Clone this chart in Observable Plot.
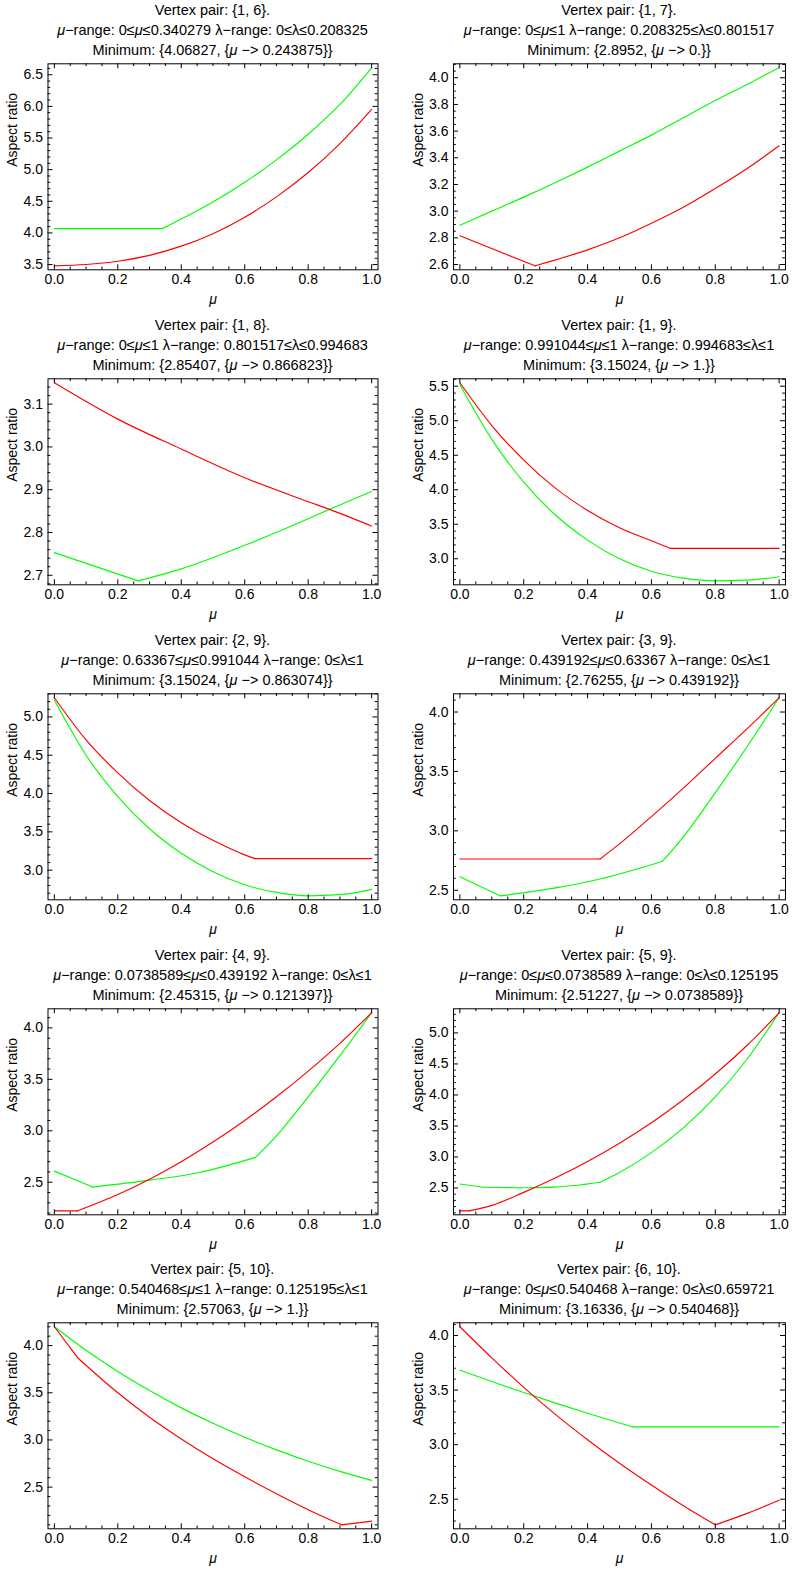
<!DOCTYPE html>
<html>
<head>
<meta charset="utf-8">
<script src="https://cdn.jsdelivr.net/npm/d3@7"></script>
<script src="https://cdn.jsdelivr.net/npm/@observablehq/plot@0.6"></script>
<style>
  body { margin: 0; background: #fff; }
  #grid { position: relative; width: 808px; height: 1572px; overflow: hidden;
          font-family: "Liberation Sans", Arial, sans-serif; color: #000; }
  .panel { position: absolute; width: 404px; height: 315px; }
  .title { position: absolute; top: -0.5px; text-align: center; font-size: 14.5px;
           line-height: 20px; white-space: nowrap; }
  .panel svg { position: absolute; left: 0; top: 60px; }
</style>
</head>
<body>
<div id="grid"></div>
<script>
// ---------- data ----------
const xTicks = [0, 0.2, 0.4, 0.6, 0.8, 1.0];

const titles = [
  ["Vertex pair: {1, 6}.", "<i>μ</i>−range: 0≤<i>μ</i>≤0.340279 λ−range: 0≤λ≤0.208325", "Minimum: {4.06827, {<i>μ</i> −> 0.243875}}"],
  ["Vertex pair: {1, 7}.", "<i>μ</i>−range: 0≤<i>μ</i>≤1 λ−range: 0.208325≤λ≤0.801517", "Minimum: {2.8952, {<i>μ</i> −> 0.}}"],
  ["Vertex pair: {1, 8}.", "<i>μ</i>−range: 0≤<i>μ</i>≤1 λ−range: 0.801517≤λ≤0.994683", "Minimum: {2.85407, {<i>μ</i> −> 0.866823}}"],
  ["Vertex pair: {1, 9}.", "<i>μ</i>−range: 0.991044≤<i>μ</i>≤1 λ−range: 0.994683≤λ≤1", "Minimum: {3.15024, {<i>μ</i> −> 1.}}"],
  ["Vertex pair: {2, 9}.", "<i>μ</i>−range: 0.63367≤<i>μ</i>≤0.991044 λ−range: 0≤λ≤1", "Minimum: {3.15024, {<i>μ</i> −> 0.863074}}"],
  ["Vertex pair: {3, 9}.", "<i>μ</i>−range: 0.439192≤<i>μ</i>≤0.63367 λ−range: 0≤λ≤1", "Minimum: {2.76255, {<i>μ</i> −> 0.439192}}"],
  ["Vertex pair: {4, 9}.", "<i>μ</i>−range: 0.0738589≤<i>μ</i>≤0.439192 λ−range: 0≤λ≤1", "Minimum: {2.45315, {<i>μ</i> −> 0.121397}}"],
  ["Vertex pair: {5, 9}.", "<i>μ</i>−range: 0≤<i>μ</i>≤0.0738589 λ−range: 0≤λ≤0.125195", "Minimum: {2.51227, {<i>μ</i> −> 0.0738589}}"],
  ["Vertex pair: {5, 10}.", "<i>μ</i>−range: 0.540468≤<i>μ</i>≤1 λ−range: 0.125195≤λ≤1", "Minimum: {2.57063, {<i>μ</i> −> 1.}}"],
  ["Vertex pair: {6, 10}.", "<i>μ</i>−range: 0≤<i>μ</i>≤0.540468 λ−range: 0≤λ≤0.659721", "Minimum: {3.16336, {<i>μ</i> −> 0.540468}}"]
];

// y tick labels per panel and minor tick step
const yTicks1 = [3.5, 4.0, 4.5, 5.0, 5.5, 6.0, 6.5];
const yTicks2 = [2.6, 2.8, 3.0, 3.2, 3.4, 3.6, 3.8, 4.0];
const yTicks3 = [2.7, 2.8, 2.9, 3.0, 3.1];
const yTicks4 = [3.0, 3.5, 4.0, 4.5, 5.0, 5.5];
const yTicks5 = [3.0, 3.5, 4.0, 4.5, 5.0];
const yTicks6 = [2.5, 3.0, 3.5, 4.0];
const yTicks7 = [2.5, 3.0, 3.5, 4.0];
const yTicks8 = [2.5, 3.0, 3.5, 4.0, 4.5, 5.0];
const yTicks9 = [2.5, 3.0, 3.5, 4.0];
const yTicks10 = [2.5, 3.0, 3.5, 4.0];
const yMinorSteps = [0.1, 0.05, 0.02, 0.1, 0.1, 0.1, 0.1, 0.1, 0.1, 0.1];

// series: each is a list of smooth pieces, each piece a list of [mu, aspect ratio]
const red1 = [[[0,3.48],[0.1,3.501],[0.2,3.553],[0.3,3.646],[0.4,3.791],[0.5,3.988],[0.6,4.248],[0.7,4.57],[0.8,4.954],[0.9,5.411],[1.0,5.951]]];
const green1 = [[[0,4.068],[0.34,4.068]],
                [[0.34,4.068],[0.4,4.22],[0.5,4.49],[0.6,4.8],[0.7,5.155],[0.8,5.56],[0.9,6.03],[1.0,6.61]]];

const red2 = [[[0,2.815],[0.235,2.59]],
              [[0.235,2.59],[0.3,2.635],[0.4,2.71],[0.5,2.8],[0.6,2.91],[0.7,3.03],[0.8,3.17],[0.9,3.32],[1.0,3.49]]];
const green2 = [[[0,2.895],[0.1,3.0],[0.2,3.105],[0.3,3.215],[0.4,3.33],[0.5,3.45],[0.6,3.57],[0.7,3.7],[0.8,3.83],[0.9,3.95],[1.0,4.075]]];

const red3 = [[[0,3.15],[0.2,3.065],[0.4,2.995],[0.6,2.928],[0.8,2.872],[0.867,2.854],[1.0,2.815]]];
const green3 = [[[0,2.753],[0.264,2.687]],
                [[0.264,2.687],[0.4,2.715],[0.6,2.77],[0.8,2.832],[0.867,2.854],[1.0,2.896]]];

const red4 = [[[0,5.55],[0.1,4.93],[0.2,4.43],[0.3,4.02],[0.4,3.7],[0.5,3.45],[0.6,3.26],[0.66,3.15]],
              [[0.66,3.15],[1.0,3.15]]];
const green4 = [[[0,5.52],[0.1,4.73],[0.2,4.11],[0.3,3.63],[0.4,3.27],[0.5,3.0],[0.6,2.82],[0.7,2.72],[0.8,2.68],[0.9,2.69],[1.0,2.74]]];

const red5 = [[[0,5.25],[0.1,4.7],[0.2,4.27],[0.3,3.91],[0.4,3.62],[0.5,3.39],[0.6,3.2],[0.634,3.15]],
              [[0.634,3.15],[1.0,3.15]]];
const green5 = [[[0,5.22],[0.1,4.5],[0.2,3.96],[0.3,3.54],[0.4,3.22],[0.5,2.98],[0.6,2.81],[0.7,2.71],[0.8,2.665],[0.9,2.68],[1.0,2.75]]];

const red6 = [[[0,2.763],[0.439,2.763]],
              [[0.439,2.763],[0.5,2.89],[0.6,3.12],[0.7,3.36],[0.8,3.61],[0.9,3.86],[1.0,4.12]]];
const green6 = [[[0,2.613],[0.126,2.453]],
                [[0.126,2.453],[0.3,2.52],[0.439,2.595],[0.634,2.742]],
                [[0.634,2.742],[0.7,2.95],[0.8,3.32],[0.9,3.71],[1.0,4.12]]];

const red7 = [[[0,2.222],[0.0739,2.222]],
              [[0.0739,2.222],[0.2,2.38],[0.3,2.53],[0.4,2.7],[0.5,2.89],[0.6,3.1],[0.7,3.33],[0.8,3.58],[0.9,3.85],[1.0,4.147]]];
const green7 = [[[0,2.608],[0.121,2.453]],
                [[0.121,2.453],[0.3,2.52],[0.45,2.59],[0.634,2.742]],
                [[0.634,2.742],[0.7,2.95],[0.8,3.33],[0.9,3.73],[1.0,4.147]]];

const red8 = [[[0,2.132],[0.03,2.132]],
              [[0.03,2.132],[0.1,2.22],[0.2,2.43],[0.3,2.665],[0.4,2.928],[0.5,3.223],[0.6,3.553],[0.7,3.923],[0.8,4.337],[0.9,4.801],[1.0,5.325]]];
const green8 = [[[0,2.565],[0.074,2.512]],
                [[0.074,2.512],[0.2,2.505],[0.3,2.515],[0.439,2.592]],
                [[0.439,2.592],[0.5,2.75],[0.6,3.07],[0.7,3.47],[0.8,3.97],[0.9,4.58],[1.0,5.325]]];

const red9 = [[[0,4.2],[0.0739,3.87]],
              [[0.0739,3.87],[0.2,3.5],[0.3,3.24],[0.4,3.01],[0.5,2.8],[0.6,2.61],[0.7,2.43],[0.8,2.26],[0.905,2.1]],
              [[0.905,2.1],[1.0,2.14]]];
const green9 = [[[0,4.2],[0.1,3.95],[0.2,3.725],[0.3,3.523],[0.4,3.34],[0.5,3.176],[0.6,3.028],[0.7,2.895],[0.8,2.775],[0.9,2.667],[1.0,2.571]]];

const red10 = [[[0,4.08],[0.1,3.795],[0.2,3.525],[0.3,3.275],[0.4,3.045],[0.5,2.83],[0.6,2.63],[0.7,2.44],[0.8,2.265]],
               [[0.8,2.265],[0.9,2.37],[1.0,2.49]]];
const green10 = [[[0,3.683],[0.1,3.578],[0.2,3.477],[0.3,3.38],[0.4,3.287],[0.5,3.198],[0.5405,3.163]],
                 [[0.5405,3.163],[1.0,3.163]]];

// ---------- drawing ----------
const panels = [
  {red: red1, green: green1, yTicks: yTicks1},
  {red: red2, green: green2, yTicks: yTicks2},
  {red: red3, green: green3, yTicks: yTicks3},
  {red: red4, green: green4, yTicks: yTicks4},
  {red: red5, green: green5, yTicks: yTicks5},
  {red: red6, green: green6, yTicks: yTicks6},
  {red: red7, green: green7, yTicks: yTicks7},
  {red: red8, green: green8, yTicks: yTicks8},
  {red: red9, green: green9, yTicks: yTicks9},
  {red: red10, green: green10, yTicks: yTicks10}
];
const rowTops = [0, 315, 630, 945, 1259];
const grid = document.getElementById("grid");
const fmt = d3.format(".1f");

function toRows(pieces) {
  const rows = [];
  pieces.forEach((p, k) => p.forEach(([x, y]) => rows.push({x, y, piece: k})));
  return rows;
}
function minorTicks(lo, hi, step, majorStep) {
  const out = [];
  for (let i = Math.ceil(lo / step - 1e-9); i <= Math.floor(hi / step + 1e-9); i++) {
    const v = i * step;
    const r = v / majorStep;
    if (Math.abs(r - Math.round(r)) > 1e-6) out.push(v);
  }
  return out;
}

panels.forEach((cfg, idx) => {
  const col = idx % 2, row = Math.floor(idx / 2);
  const W = 404, H = 255;
  const mL = col === 0 ? 47.5 : 49, mR = col === 0 ? 26.5 : 23, mT = 3.3, mB = 45.7;
  const fw = W - mL - mR, fh = H - mT - mB;

  const redRows = toRows(cfg.red), greenRows = toRows(cfg.green);
  const [lo, hi] = d3.extent([...redRows, ...greenRows], d => d.y);
  const pad = (hi - lo) * 0.02;
  const yDomain = [lo - pad, hi + pad];

  const xMinor = d3.range(0, 21).filter(i => i % 4 !== 0).map(i => i / 20);
  const yMajorStep = cfg.yTicks[1] - cfg.yTicks[0];
  const yMinor = minorTicks(yDomain[0], yDomain[1], yMinorSteps[idx], yMajorStep);

  const maj = 5, mino = 2.8;
  const chart = Plot.plot({
    width: W, height: H,
    marginLeft: mL, marginRight: mR, marginTop: mT, marginBottom: mB,
    x: {domain: [-0.02, 1.02], axis: null},
    y: {domain: yDomain, axis: null},
    style: {fontFamily: '"Liberation Sans", Arial, sans-serif', fontSize: "14px", color: "#000", background: "transparent", overflow: "visible"},
    marks: [
      Plot.line(greenRows, {x: "x", y: "y", z: "piece", stroke: "#00ff00", strokeWidth: 1.15, curve: "monotone-x"}),
      Plot.line(redRows, {x: "x", y: "y", z: "piece", stroke: "#ff0000", strokeWidth: 1.15, curve: "monotone-x"}),
      Plot.frame({stroke: "#000", strokeWidth: 1}),
      // inward frame ticks on all four sides
      Plot.tickX(xTicks, {x: d => d, insetTop: fh - maj, stroke: "#000"}),
      Plot.tickX(xTicks, {x: d => d, insetBottom: fh - maj, stroke: "#000"}),
      Plot.tickX(xMinor, {x: d => d, insetTop: fh - mino, stroke: "#000"}),
      Plot.tickX(xMinor, {x: d => d, insetBottom: fh - mino, stroke: "#000"}),
      Plot.tickY(cfg.yTicks, {y: d => d, insetRight: fw - maj, stroke: "#000"}),
      Plot.tickY(cfg.yTicks, {y: d => d, insetLeft: fw - maj, stroke: "#000"}),
      Plot.tickY(yMinor, {y: d => d, insetRight: fw - mino, stroke: "#000"}),
      Plot.tickY(yMinor, {y: d => d, insetLeft: fw - mino, stroke: "#000"}),
      Plot.axisX(xTicks, {anchor: "bottom", tickSize: 0, tickPadding: 4, tickFormat: fmt, label: null, fontSize: 14}),
      Plot.axisY(cfg.yTicks, {anchor: "left", tickSize: 0, tickPadding: 5, tickFormat: fmt, label: null, fontSize: 14}),
      Plot.text(["μ"], {frameAnchor: "bottom", dy: 34, text: d => d, fontStyle: "italic", fontSize: 14}),
      Plot.text(["Aspect ratio"], {frameAnchor: "left", dx: -35, rotate: -90, text: d => d, fontSize: 14})
    ]
  });

  const div = document.createElement("div");
  div.className = "panel";
  div.style.left = (col * 404) + "px";
  div.style.top = rowTops[row] + "px";
  const t = document.createElement("div");
  t.className = "title";
  const cx = mL + fw / 2;
  t.style.left = (cx - 200) + "px";
  t.style.width = "400px";
  t.innerHTML = titles[idx].join("<br>");
  div.appendChild(t);
  div.appendChild(chart);
  grid.appendChild(div);
});
</script>
</body>
</html>
